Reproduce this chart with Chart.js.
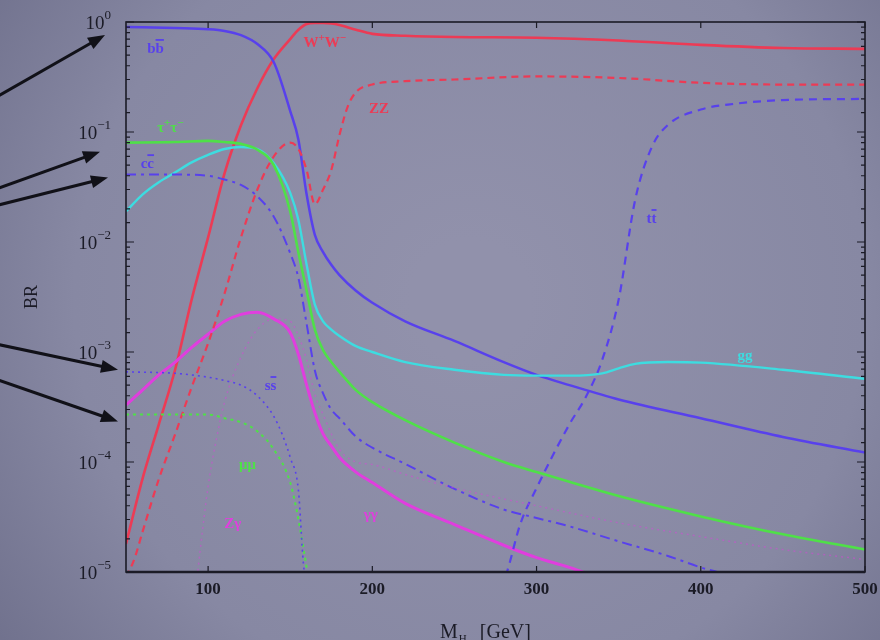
<!DOCTYPE html>
<html>
<head>
<meta charset="utf-8">
<script src="https://cdn.jsdelivr.net/npm/chart.js@4/dist/chart.umd.min.js"></script>
<style>
  html, body { margin: 0; padding: 0; background: #8a8ba4; }
</style>
</head>
<body>
<canvas id="br" width="880" height="640"></canvas>
<script>
// Higgs branching ratios vs M_H
const xTicks = [100, 200, 300, 400, 500];
const yPowers = [0, -1, -2, -3, -4, -5];

const bbMass = [50, 80, 100, 110, 120, 130, 140, 150, 155, 160, 165, 170, 175, 180, 190, 200, 220, 250, 280, 300, 320, 350, 400, 450, 500];
const bbBR = [0.90, 0.88, 0.86, 0.83, 0.76, 0.63, 0.43, 0.155, 0.085, 0.027, 0.0116, 0.0081, 0.0062, 0.0050, 0.0036, 0.0028, 0.0019, 0.00126, 0.00081, 0.00062, 0.00050, 0.00037, 0.00025, 0.000169, 0.000122];

const wwMass = [50, 60, 70, 80, 90, 100, 110, 120, 130, 140, 150, 155, 160, 165, 170, 175, 180, 190, 200, 220, 250, 300, 350, 400, 450, 500];
const wwBR = [1.8e-5, 7e-5, 2.2e-4, 7e-4, 3.0e-3, 0.011, 0.042, 0.115, 0.25, 0.46, 0.70, 0.85, 0.96, 0.98, 0.98, 0.97, 0.94, 0.85, 0.78, 0.75, 0.73, 0.72, 0.68, 0.62, 0.58, 0.57];

const zzMass = [50, 55, 60, 70, 80, 90, 100, 110, 120, 130, 140, 150, 155, 160, 165, 170, 175, 180, 185, 190, 200, 220, 250, 300, 350, 400, 450, 500];
const zzBR = [9e-6, 1.3e-5, 2.3e-5, 7e-5, 1.8e-4, 4.8e-4, 1.2e-3, 3.4e-3, 0.011, 0.030, 0.060, 0.080, 0.070, 0.045, 0.022, 0.030, 0.045, 0.094, 0.17, 0.23, 0.27, 0.29, 0.30, 0.32, 0.31, 0.28, 0.27, 0.27];

const ttMass = [278, 282, 290, 300, 320, 330, 340, 350, 360, 370, 380, 400, 420, 450, 500];
const ttBR = [7e-6, 1e-5, 2.7e-5, 5.8e-5, 2.2e-4, 3.9e-4, 8.5e-4, 3.0e-3, 0.024, 0.072, 0.116, 0.16, 0.18, 0.195, 0.20];

const tauMass = [50, 80, 100, 110, 120, 130, 140, 150, 155, 160, 165, 170, 175, 180, 190, 200, 220, 250, 280, 300, 320, 350, 400, 450, 500];
const tauBR = [0.080, 0.081, 0.083, 0.081, 0.078, 0.069, 0.050, 0.019, 0.008, 0.0036, 1.6e-3, 1.04e-3, 8.1e-4, 6.6e-4, 4.5e-4, 3.5e-4, 2.4e-4, 1.5e-4, 1.0e-4, 8.1e-5, 6.6e-5, 4.9e-5, 3.2e-5, 2.2e-5, 1.6e-5];

const ggMass = [50, 60, 70, 80, 90, 100, 110, 120, 130, 140, 150, 155, 160, 165, 170, 175, 180, 190, 200, 220, 250, 280, 300, 320, 340, 350, 360, 380, 400, 450, 500];
const ggBR = [0.019, 0.027, 0.035, 0.043, 0.053, 0.062, 0.070, 0.073, 0.070, 0.052, 0.028, 0.0158, 6.2e-3, 2.7e-3, 1.9e-3, 1.6e-3, 1.4e-3, 1.13e-3, 1.0e-3, 8.1e-4, 6.9e-4, 6.2e-4, 6.1e-4, 6.1e-4, 6.4e-4, 7.1e-4, 7.8e-4, 8.1e-4, 8.0e-4, 6.9e-4, 5.7e-4];

const ccMass = [50, 80, 100, 110, 120, 130, 140, 150, 155, 160, 165, 170, 175, 180, 190, 200, 220, 250, 280, 300, 320, 350, 380, 400, 410, 425];
const ccBR = [0.041, 0.041, 0.040, 0.037, 0.033, 0.026, 0.017, 0.0079, 0.0047, 0.0018, 6.8e-4, 4.2e-4, 3.0e-4, 2.5e-4, 1.7e-4, 1.35e-4, 9.6e-5, 5.7e-5, 3.7e-5, 3.1e-5, 2.6e-5, 1.9e-5, 1.4e-5, 1.1e-5, 1.0e-5, 8e-6];

const ssMass = [50, 80, 100, 110, 120, 130, 140, 145, 150, 155, 158, 161];
const ssBR = [6.6e-4, 6.4e-4, 5.9e-4, 5.5e-4, 5.0e-4, 4.0e-4, 2.6e-4, 1.8e-4, 1.1e-4, 5.5e-5, 1.2e-5, 6e-6];

const mumuMass = [50, 80, 100, 110, 120, 130, 140, 150, 155, 160, 163];
const mumuBR = [2.7e-4, 2.7e-4, 2.7e-4, 2.5e-4, 2.3e-4, 1.9e-4, 1.3e-4, 6.5e-5, 3.0e-5, 1.1e-5, 6e-6];

const aaMass = [50, 60, 70, 80, 90, 100, 110, 120, 130, 140, 150, 155, 160, 165, 170, 175, 180, 190, 200, 220, 250, 280, 300, 320, 340];
const aaBR = [3.3e-4, 4.5e-4, 6.2e-4, 8.1e-4, 1.1e-3, 1.45e-3, 1.9e-3, 2.2e-3, 2.3e-3, 2.0e-3, 1.5e-3, 9.5e-4, 5.0e-4, 2.8e-4, 1.8e-4, 1.4e-4, 1.1e-4, 8.1e-5, 6.5e-5, 4.2e-5, 2.7e-5, 1.75e-5, 1.35e-5, 1.1e-5, 8.6e-6];

const zaMass = [93, 95, 100, 105, 110, 120, 130, 140, 150, 155, 160, 165, 170, 180, 190, 200, 220, 250, 300, 350, 400, 450, 500];
const zaBR = [8e-6, 1.5e-5, 6e-5, 1.6e-4, 3.5e-4, 9e-4, 1.6e-3, 2.0e-3, 1.9e-3, 1.4e-3, 8.5e-4, 4.1e-4, 2.7e-4, 1.3e-4, 1.0e-4, 9.5e-5, 7.7e-5, 5.8e-5, 4.0e-5, 2.8e-5, 2.1e-5, 1.6e-5, 1.3e-5];

const BLUE = '#5841ec';
const RED = '#ec3b55';
const GREEN = '#4fe048';
const CYAN = '#3ddce0';
const MAGENTA = '#e03ede';

function pts(ms, vs) {
  return ms.map((m, i) => ({ x: m, y: vs[i] }));
}

function line(label, ms, vs, color, width, dash) {
  return {
    label: label,
    data: pts(ms, vs),
    borderColor: color,
    borderWidth: width,
    borderDash: dash || [],
    pointRadius: 0,
    fill: false,
    cubicInterpolationMode: 'monotone'
  };
}

const datasets = [
  line('Zgamma', zaMass, zaBR, 'rgba(224,62,222,0.45)', 1.5, [2, 4]),
  line('ss', ssMass, ssBR, BLUE, 1.6, [2, 4]),
  line('mumu', mumuMass, mumuBR, GREEN, 2, [3, 4]),
  line('cc', ccMass, ccBR, BLUE, 2, [10, 5, 3, 5]),
  line('tt', ttMass, ttBR, BLUE, 2.2, [8, 6]),
  line('ZZ', zzMass, zzBR, RED, 2.2, [7, 5]),
  line('gamgam', aaMass, aaBR, MAGENTA, 3),
  line('tautau', tauMass, tauBR, GREEN, 2.6),
  line('gg', ggMass, ggBR, CYAN, 2.4),
  line('bb', bbMass, bbBR, BLUE, 2.5),
  line('WW', wwMass, wwBR, RED, 2.6)
];

// curve labels: '~' puts a bar over the next char, '^' raises it
const curveLabels = [
  { text: 'b~b', m: 68, v: 0.58, color: BLUE },
  { text: 'W^+W^-', m: 171, v: 0.66, color: RED },
  { text: 'ZZ', m: 204, v: 0.165, color: RED },
  { text: 'τ^+τ^-', m: 77, v: 0.111, color: GREEN },
  { text: 'c~c', m: 63, v: 0.052, color: BLUE },
  { text: 't~t', m: 370, v: 0.0165, color: BLUE },
  { text: 'gg', m: 427, v: 9.3e-4, color: CYAN },
  { text: 's~s', m: 138, v: 5.0e-4, color: BLUE },
  { text: 'μμ', m: 124, v: 9.5e-5, color: GREEN },
  { text: 'Zγ', m: 115, v: 2.8e-5, color: MAGENTA },
  { text: 'γγ', m: 199, v: 3.4e-5, color: MAGENTA }
];

// arrows from the slide margin to the start of some curves
const arrows = [
  { v: bbBR[0], dy: 8, gap: 21, rise: 60 },
  { v: tauBR[0], dy: 9, gap: 26, rise: 36 },
  { v: ccBR[0], dy: 3, gap: 18, rise: 27 },
  { v: ssBR[0], dy: -2, gap: 8, rise: -25 },
  { v: mumuBR[0], dy: 7, gap: 8, rise: -41 }
];

const INK = '#1b1b26';
const SERIF = '"Liberation Serif", "DejaVu Serif", serif';

function drawLabel(ctx, spec, x, y) {
  const mainFont = 'bold 15px ' + SERIF;
  const supFont = 'bold 11px ' + SERIF;
  const parts = [];
  for (let i = 0; i < spec.length; i++) {
    const c = spec[i];
    if (c === '~') { parts.push({ t: spec[++i], bar: true }); }
    else if (c === '^') { parts.push({ t: spec[++i] === '-' ? '−' : spec[i], sup: true }); }
    else parts.push({ t: c });
  }
  let w = 0;
  parts.forEach(p => {
    ctx.font = p.sup ? supFont : mainFont;
    p.w = ctx.measureText(p.t).width;
    w += p.w;
  });
  let cx = x - w / 2;
  ctx.textBaseline = 'alphabetic';
  ctx.textAlign = 'left';
  parts.forEach(p => {
    ctx.font = p.sup ? supFont : mainFont;
    ctx.fillText(p.t, cx, p.sup ? y - 1 : y + 5);
    if (p.bar) {
      ctx.fillRect(cx, y - 9, p.w, 1.8);
    }
    cx += p.w;
  });
}

const deco = {
  id: 'deco',
  beforeDraw(chart) {
    const ctx = chart.ctx;
    const g = ctx.createRadialGradient(470, 300, 60, 470, 300, 620);
    g.addColorStop(0, '#9191ab');
    g.addColorStop(0.6, '#8788a3');
    g.addColorStop(1, '#6c6d89');
    ctx.save();
    ctx.fillStyle = g;
    ctx.fillRect(0, 0, chart.width, chart.height);
    ctx.restore();
  },
  afterDraw(chart) {
    const ctx = chart.ctx;
    const a = chart.chartArea;
    const xs = chart.scales.x;
    const ys = chart.scales.y;
    ctx.save();

    // frame
    ctx.strokeStyle = INK;
    ctx.lineWidth = 1.6;
    ctx.strokeRect(a.left, a.top, a.right - a.left, a.bottom - a.top);
    ctx.lineWidth = 2.6;
    ctx.beginPath();
    ctx.moveTo(a.left, a.bottom);
    ctx.lineTo(a.right, a.bottom);
    ctx.stroke();

    // y tick marks (log minor ticks from the scale)
    ctx.lineWidth = 1.2;
    ys.ticks.forEach(t => {
      const y = ys.getPixelForValue(t.value);
      const lg = Math.log10(t.value);
      const len = Math.abs(lg - Math.round(lg)) < 1e-6 ? 8 : 4;
      ctx.beginPath();
      ctx.moveTo(a.left, y); ctx.lineTo(a.left + len, y);
      ctx.moveTo(a.right, y); ctx.lineTo(a.right - len, y);
      ctx.stroke();
    });
    // x tick marks and labels
    ctx.fillStyle = INK;
    ctx.font = 'bold 17px ' + SERIF;
    ctx.textAlign = 'center';
    ctx.textBaseline = 'middle';
    xTicks.forEach(v => {
      const x = xs.getPixelForValue(v);
      ctx.beginPath();
      ctx.moveTo(x, a.bottom); ctx.lineTo(x, a.bottom - 6);
      ctx.moveTo(x, a.top); ctx.lineTo(x, a.top + 6);
      ctx.stroke();
      ctx.fillText(String(v), x, a.bottom + 18);
    });

    // y tick labels 10^n
    ctx.textBaseline = 'alphabetic';
    yPowers.forEach(p => {
      const y = ys.getPixelForValue(Math.pow(10, p));
      const sup = p === 0 ? '0' : '−' + (-p);
      ctx.font = '13px ' + SERIF;
      const sw = ctx.measureText(sup).width;
      ctx.font = '19px ' + SERIF;
      const bw = ctx.measureText('10').width;
      const right = a.left - 15;
      ctx.textAlign = 'left';
      ctx.fillText('10', right - sw - bw, y + 7);
      ctx.font = '13px ' + SERIF;
      ctx.fillText(sup, right - sw, y - 3);
    });

    // axis titles
    ctx.save();
    ctx.font = '18px ' + SERIF;
    ctx.translate(37, (a.top + a.bottom) / 2);
    ctx.rotate(-Math.PI / 2);
    ctx.textAlign = 'center';
    ctx.fillText('BR', 0, 0);
    ctx.restore();

    ctx.textAlign = 'left';
    ctx.font = '20px ' + SERIF;
    const tx = 440, ty = 638;
    ctx.fillText('M', tx, ty);
    const mw = ctx.measureText('M').width;
    ctx.font = '11px ' + SERIF;
    ctx.fillText('H', tx + mw + 1, ty + 4);
    ctx.font = '20px ' + SERIF;
    ctx.fillText('[GeV]', tx + mw + 22, ty);

    // curve labels
    curveLabels.forEach(l => {
      ctx.fillStyle = l.color;
      drawLabel(ctx, l.text, xs.getPixelForValue(l.m), ys.getPixelForValue(l.v));
    });

    // arrows
    ctx.fillStyle = '#111118';
    ctx.strokeStyle = '#111118';
    ctx.lineWidth = 3;
    arrows.forEach(ar => {
      const tx2 = a.left - ar.gap;
      const ty2 = ys.getPixelForValue(ar.v) + ar.dy;
      const sx = -5, sy = ty2 + ar.rise * (tx2 - sx) / tx2;
      const ang = Math.atan2(ty2 - sy, tx2 - sx);
      ctx.beginPath();
      ctx.moveTo(sx, sy);
      ctx.lineTo(tx2 - 10 * Math.cos(ang), ty2 - 10 * Math.sin(ang));
      ctx.stroke();
      ctx.beginPath();
      ctx.moveTo(tx2, ty2);
      ctx.lineTo(tx2 - 17 * Math.cos(ang) + 6.5 * Math.sin(ang), ty2 - 17 * Math.sin(ang) - 6.5 * Math.cos(ang));
      ctx.lineTo(tx2 - 17 * Math.cos(ang) - 6.5 * Math.sin(ang), ty2 - 17 * Math.sin(ang) + 6.5 * Math.cos(ang));
      ctx.closePath();
      ctx.fill();
    });

    ctx.restore();
  }
};

new Chart(document.getElementById('br'), {
  type: 'line',
  data: { datasets: datasets },
  options: {
    responsive: false,
    animation: false,
    layout: { padding: { top: 22, right: 15, left: 0, bottom: 0 } },
    plugins: { legend: { display: false }, tooltip: { enabled: false } },
    scales: {
      x: {
        type: 'linear',
        min: 50,
        max: 500,
        afterBuildTicks: s => { s.ticks = xTicks.map(v => ({ value: v })); },
        afterFit: s => { s.height = 68; },
        grid: { display: false, drawTicks: false },
        border: { display: false },
        ticks: { display: false }
      },
      y: {
        type: 'logarithmic',
        min: 1e-5,
        max: 1,
        afterFit: s => { s.width = 126; },
        grid: { display: false, drawTicks: false },
        border: { display: false },
        ticks: { display: false }
      }
    }
  },
  plugins: [deco]
});
</script>
</body>
</html>
